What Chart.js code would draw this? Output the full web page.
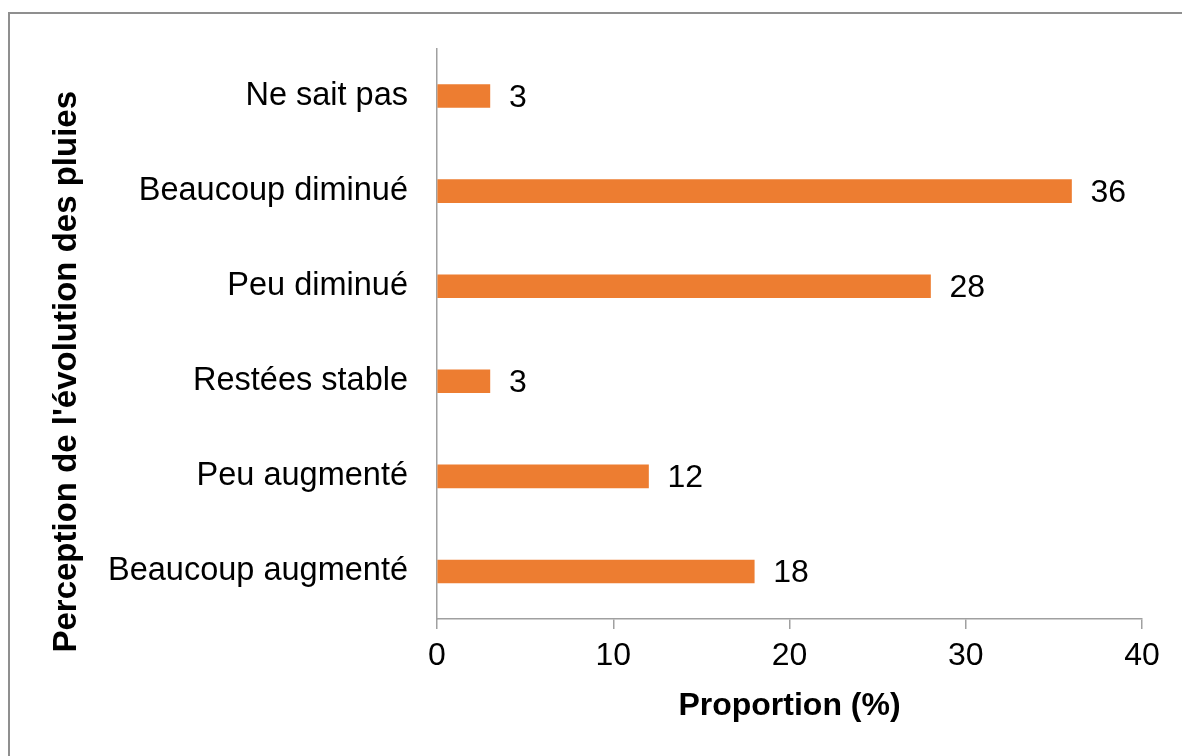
<!DOCTYPE html>
<html lang="fr">
<head>
<meta charset="UTF-8">
<title>Perception de l'évolution des pluies</title>
<script src="https://cdn.jsdelivr.net/npm/chart.js"></script>
<style>
  html, body { margin: 0; padding: 0; background: #fff; }
  #frame {
    position: absolute; left: 8px; top: 12px; width: 1300px; height: 900px;
    border-left: 2px solid #8f8f8f; border-top: 2px solid #8f8f8f;
  }
  #chart { position: absolute; left: 0; top: 0; }
</style>
</head>
<body>
<div id="frame"></div>
<canvas id="chart" width="1182" height="756"></canvas>
<script>
  const categories = ['Ne sait pas', 'Beaucoup diminué', 'Peu diminué', 'Restées stable', 'Peu augmenté', 'Beaucoup augmenté'];
  const proportions = [3, 36, 28, 3, 12, 18];
  const xTicks = [0, 10, 20, 30, 40];
  const yTitle = "Perception de l'évolution des pluies";

  const font = 'Liberation Sans, Arial, sans-serif';
  const axisGray = '#a0a0a0';

  // value printed at the end of each bar
  const barValues = {
    id: 'barValues',
    afterDatasetsDraw(chart) {
      const ctx = chart.ctx;
      const meta = chart.getDatasetMeta(0);
      ctx.save();
      ctx.font = '32px ' + font;
      ctx.fillStyle = '#000';
      ctx.textAlign = 'left';
      ctx.textBaseline = 'middle';
      meta.data.forEach((bar, i) => {
        ctx.fillText(String(proportions[i]), bar.x + 19, bar.y + 2);
      });
      ctx.restore();
    }
  };

  // vertical axis title, sitting a bit below the middle of the plot
  const sideTitle = {
    id: 'sideTitle',
    afterDraw(chart) {
      const ctx = chart.ctx;
      const area = chart.chartArea;
      ctx.save();
      ctx.translate(67, (area.top + area.bottom) / 2 + 38);
      ctx.rotate(-Math.PI / 2);
      ctx.font = 'bold 33px ' + font;
      ctx.fillStyle = '#000';
      ctx.textAlign = 'center';
      ctx.textBaseline = 'middle';
      ctx.fillText(yTitle, 0, 0);
      ctx.restore();
    }
  };

  new Chart(document.getElementById('chart'), {
    type: 'bar',
    data: {
      labels: categories,
      datasets: [{
        data: proportions,
        backgroundColor: '#ED7D31',
        barThickness: 23
      }]
    },
    options: {
      indexAxis: 'y',
      responsive: false,
      animation: false,
      layout: { padding: { left: 0, top: 47, right: 40, bottom: 0 } },
      plugins: { legend: { display: false }, tooltip: { enabled: false } },
      scales: {
        x: {
          min: 0, max: 40,
          afterFit: s => { s.height = 137; },
          afterBuildTicks: s => { s.ticks = xTicks.map(v => ({ value: v })); },
          grid: { drawOnChartArea: false, drawTicks: true, tickLength: 10, color: axisGray, lineWidth: 1.5 },
          border: { display: true, color: axisGray, width: 1.5 },
          ticks: { font: { family: font, size: 32 }, color: '#000', padding: 8, maxRotation: 0 },
          title: {
            display: true, text: 'Proportion (%)', color: '#000',
            font: { family: font, size: 32, weight: 'bold' },
            padding: { top: 0, bottom: 31 }
          }
        },
        y: {
          afterFit: s => { s.width = 437; },
          grid: { drawOnChartArea: false, drawTicks: false },
          border: { display: true, color: axisGray, width: 1.5 },
          ticks: { font: { family: font, size: 32.5 }, color: '#000', padding: 29 }
        }
      }
    },
    plugins: [barValues, sideTitle]
  });
</script>
</body>
</html>
